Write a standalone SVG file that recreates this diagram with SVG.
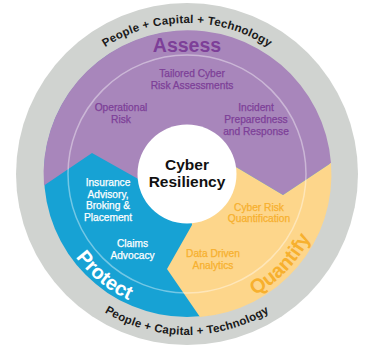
<svg xmlns="http://www.w3.org/2000/svg" width="367" height="345" viewBox="0 0 367 345">
<style>
text{font-family:"Liberation Sans",Arial,sans-serif}
.item{font-size:10.2px;text-anchor:middle}
.pu{fill:#7d3f98;stroke:#7d3f98;stroke-width:0.25}
.wh{fill:#ffffff;stroke:#ffffff;stroke-width:0.25}
.or{fill:#f7b02e;stroke:#f7b02e;stroke-width:0.25}
.ring{font-size:11.5px;font-weight:bold;fill:#1a1a1a;letter-spacing:0.25px}
.big{font-size:20px;font-weight:bold}
</style>
<defs>
<path id="topArc" d="M36,174 A151,151 0 0 1 338,174"/>
<path id="botArc" d="M26,174 A161,161 0 0 0 348,174"/>
<path id="protArc" d="M48.8,188.5 A139,139 0 0 0 201.5,312.2"/>
<path id="quantArc" d="M189.4,313 A139,139 0 0 0 326,171.6"/>
</defs>
<g id="outer-ring">
<circle cx="187" cy="174" r="171" fill="#d0d3d0"/>
<text class="ring"><textPath href="#topArc" startOffset="50%" text-anchor="middle">People + Capital + Technology</textPath></text>
<text class="ring"><textPath href="#botArc" startOffset="50%" text-anchor="middle">People + Capital + Technology</textPath></text>
</g>
<g id="protect">
<circle cx="187" cy="174" r="143" fill="#17a2d4"/>
</g>
<g id="assess">
<path d="M44,185.5 A143,143 0 1 1 331,163 L283,195 L236,167 L187,174 L140,180 L92,153 Z" fill="#a886bb"/>
</g>
<g id="quantify">
<path d="M331,163 A143,143 0 0 1 200,317 L167,269 L192,225 L187,174 L236,167 L283,195 Z" fill="#fdd68b"/>
</g>
<circle cx="187" cy="174" r="119" fill="none" stroke="#ffffff" stroke-opacity="0.4" stroke-width="1.5"/>
<g id="assess-labels">
<text class="big" x="187" y="52" text-anchor="middle" fill="#7d3f98" style="font-size:19.5px">Assess</text>
<text class="item pu" x="192" y="77">Tailored Cyber</text>
<text class="item pu" x="192" y="89">Risk Assessments</text>
<text class="item pu" x="121" y="111">Operational</text>
<text class="item pu" x="121" y="123">Risk</text>
<text class="item pu" x="256" y="111">Incident</text>
<text class="item pu" x="256" y="123">Preparedness</text>
<text class="item pu" x="256" y="135">and Response</text>
</g>
<g id="protect-labels">
<text class="big" fill="#ffffff"><textPath href="#protArc" startOffset="50%" text-anchor="middle">Protect</textPath></text>
<text class="item wh" x="108" y="186">Insurance</text>
<text class="item wh" x="108" y="197.7">Advisory,</text>
<text class="item wh" x="108" y="209.3">Broking &amp;</text>
<text class="item wh" x="108" y="221">Placement</text>
<text class="item wh" x="132.5" y="246.5">Claims</text>
<text class="item wh" x="132.5" y="259">Advocacy</text>
</g>
<g id="quantify-labels">
<text class="big" fill="#f7b02e"><textPath href="#quantArc" startOffset="50%" text-anchor="middle">Quantify</textPath></text>
<text class="item or" x="259" y="210.5">Cyber Risk</text>
<text class="item or" x="259" y="222">Quantification</text>
<text class="item or" x="213" y="256.7">Data Driven</text>
<text class="item or" x="213" y="269">Analytics</text>
</g>
<g id="center">
<circle cx="187" cy="174" r="49.5" fill="#ffffff"/>
<text x="187" y="170" text-anchor="middle" style="font-size:15.5px;font-weight:bold" fill="#111111">Cyber</text>
<text x="187" y="187" text-anchor="middle" style="font-size:15.5px;font-weight:bold" fill="#111111">Resiliency</text>
</g>
</svg>
